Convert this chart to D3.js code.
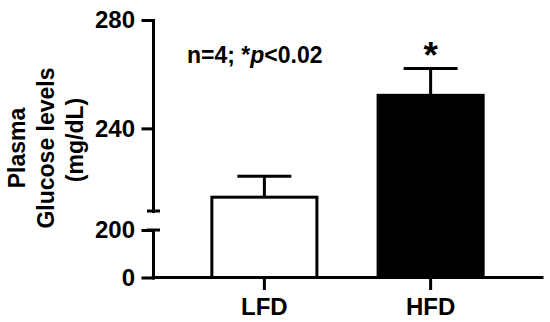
<!DOCTYPE html>
<html>
<head>
<meta charset="utf-8">
<script src="https://cdn.jsdelivr.net/npm/d3@7"></script>
<style>
  body { margin: 0; background: #fff; }
  text { font-family: "Liberation Sans", Arial, sans-serif; font-weight: bold; }
</style>
</head>
<body>
<div id="chart"></div>
<script>
var groups = ["LFD", "HFD"];
var means = [214.6, 252.2];
var sems = [7.7, 9.9];
var fills = ["#fff", "#000"];
var upperTicks = [240, 280];
var lowerTicks = [0, 200];
var titleLines = ["Plasma", "Glucose levels", "(mg/dL)"];

var W = 550, H = 322;
var AXIS_X = 153;
var STROKE = 3;

var svg = d3.select("#chart").append("svg")
        .attr("width", W)
        .attr("height", H);

var x = d3.scaleBand()
        .domain(groups)
        .range([AXIS_X, 542])
        .paddingInner(0.35)
        .paddingOuter(0.345)
        .align(0.5);

// broken y axis: two segments
var upper = d3.scaleLinear().domain([209.5, 280]).range([211, 20]);
var lower = d3.scaleLinear().domain([0, 200]).range([277.5, 230]);

function styleAxis(g, size) {
        g.selectAll("path, line")
                .attr("stroke", "#000")
                .attr("stroke-width", STROKE)
                .attr("stroke-linecap", "square");
        g.selectAll("text")
                .attr("fill", "#000")
                .style("font-size", size + "px")
                .style("font-family", "'Liberation Sans', Arial, sans-serif")
                .style("font-weight", "bold");
}

// bars
var bars = svg.append("g");
groups.forEach(function(gname, i) {
        var top = upper(means[i]);
        bars.append("rect")
                .attr("x", x(gname) + STROKE / 2)
                .attr("y", top)
                .attr("width", x.bandwidth() - STROKE)
                .attr("height", lower(0) - top)
                .attr("fill", fills[i])
                .attr("stroke", "#000")
                .attr("stroke-width", STROKE);

        var cx = x(gname) + x.bandwidth() / 2;
        var ey = upper(means[i] + sems[i]);
        bars.append("line")
                .attr("x1", cx).attr("x2", cx)
                .attr("y1", top).attr("y2", ey)
                .attr("stroke", "#000").attr("stroke-width", STROKE);
        bars.append("line")
                .attr("x1", cx - 27).attr("x2", cx + 27)
                .attr("y1", ey).attr("y2", ey)
                .attr("stroke", "#000").attr("stroke-width", STROKE);
});

// x axis
var xg = svg.append("g")
        .attr("transform", "translate(0," + lower(0) + ")")
        .call(d3.axisBottom(x).tickSize(11).tickSizeOuter(0).tickPadding(9));
xg.select(".domain").attr("d", "M" + AXIS_X + ",0H542");
styleAxis(xg, 24);

// upper y segment
var ug = svg.append("g")
        .attr("transform", "translate(" + AXIS_X + ",0)")
        .call(d3.axisLeft(upper).tickValues(upperTicks).tickSize(10).tickSizeOuter(0).tickPadding(8));
styleAxis(ug, 24);

// lower y segment
var lg = svg.append("g")
        .attr("transform", "translate(" + AXIS_X + ",0)")
        .call(d3.axisLeft(lower).tickValues(lowerTicks).tickSize(10).tickSizeOuter(0).tickPadding(8));
styleAxis(lg, 24);

// caps at the break
[upper.range()[0], lower.range()[1]].forEach(function(y) {
        svg.append("line")
                .attr("x1", AXIS_X - 6).attr("x2", AXIS_X + 7)
                .attr("y1", y).attr("y2", y)
                .attr("stroke", "#000").attr("stroke-width", STROKE);
});

// y title
var title = svg.append("text")
        .attr("transform", "translate(0,148) rotate(-90)")
        .attr("text-anchor", "middle")
        .style("font-size", "23px");
var titleX = [25, 54, 83];
titleLines.forEach(function(t, i) {
        title.append("tspan")
                .attr("x", i == 2 ? 8 : 0)
                .attr("y", titleX[i])
                .text(t);
});

// annotations
var note = svg.append("text")
        .attr("x", 187)
        .attr("y", 63)
        .style("font-size", "23px");
note.append("tspan").text("n=4; *");
note.append("tspan").style("font-style", "italic").text("p");
note.append("tspan").text("<0.02");

svg.append("text")
        .attr("x", x("HFD") + x.bandwidth() / 2)
        .attr("y", 68)
        .attr("text-anchor", "middle")
        .style("font-size", "37px")
        .text("*");
</script>
</body>
</html>
